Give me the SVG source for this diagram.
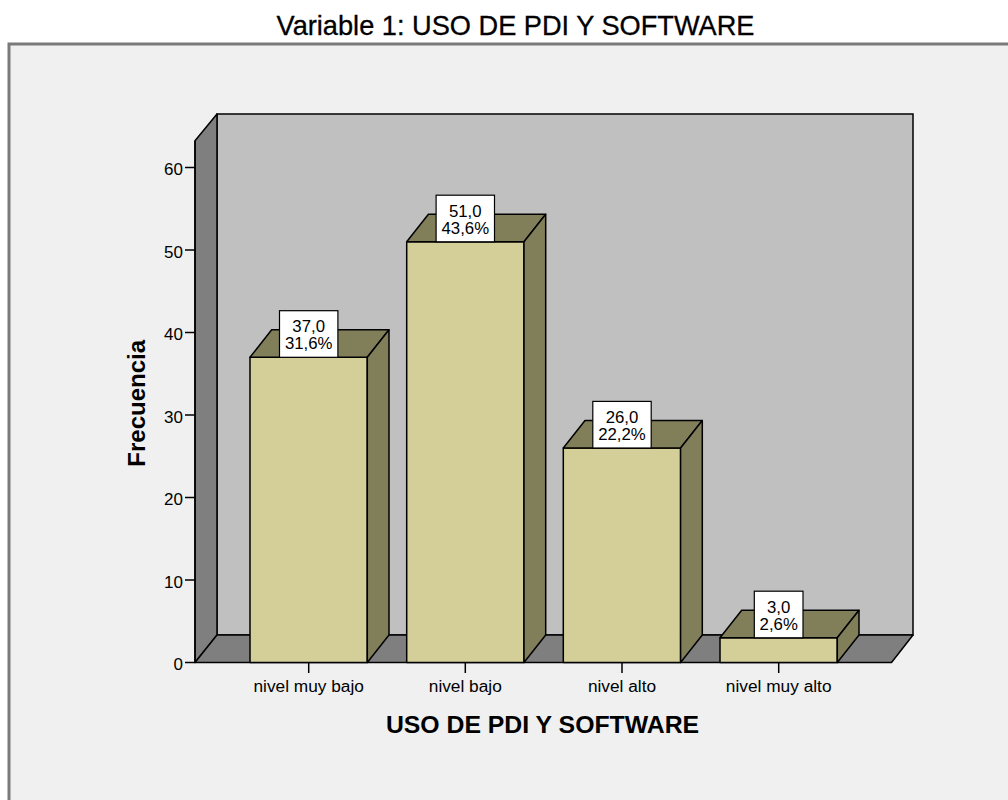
<svg xmlns="http://www.w3.org/2000/svg" width="1008" height="800" viewBox="0 0 1008 800">
<style>
text{font-family:"Liberation Sans",Arial,sans-serif;fill:#000}
.tick{font-size:17px;text-anchor:end}
.cat{font-size:17.3px;text-anchor:middle}
.val{font-size:16.8px;text-anchor:middle}
.ln{stroke:#000;stroke-width:1.5;fill:none}
.front{fill:#d4cf98;stroke:#000;stroke-width:1.5;stroke-linejoin:round}
.dark{fill:#817e5a;stroke:#000;stroke-width:1.5;stroke-linejoin:round}
.box{fill:#fff;stroke:#000;stroke-width:1.2}
</style>
<rect x="0" y="0" width="1008" height="800" fill="#fff"/>
<rect x="9" y="44" width="1100" height="800" fill="#f0f0f0" stroke="#7a7a7a" stroke-width="3"/>
<text x="515.5" y="35" font-size="27.2" text-anchor="middle" stroke="#000" stroke-width="0.3">Variable 1: USO DE PDI Y SOFTWARE</text>

<g id="walls">
<rect x="217" y="114" width="696" height="521" fill="#c0c0c0" stroke="#000" stroke-width="1.5"/>
<polygon points="195,662.5 195,140.7 217,114 217,635" fill="#7f7f7f" stroke="#000" stroke-width="1.5" stroke-linejoin="round"/>
<polygon points="195,662.5 217,635 913,635 891.5,662.5" fill="#7f7f7f" stroke="#000" stroke-width="1.5" stroke-linejoin="round"/>
</g>

<g id="y-axis">
<line class="ln" x1="195" y1="140.7" x2="195" y2="662.5"/>
<line class="ln" x1="185" y1="662.5" x2="195" y2="662.5"/>
<line class="ln" x1="185" y1="580" x2="195" y2="580"/>
<line class="ln" x1="185" y1="497.5" x2="195" y2="497.5"/>
<line class="ln" x1="185" y1="415" x2="195" y2="415"/>
<line class="ln" x1="185" y1="332.5" x2="195" y2="332.5"/>
<line class="ln" x1="185" y1="250" x2="195" y2="250"/>
<line class="ln" x1="185" y1="167.5" x2="195" y2="167.5"/>
<text class="tick" x="183" y="670">0</text>
<text class="tick" x="183" y="587.5">10</text>
<text class="tick" x="183" y="505">20</text>
<text class="tick" x="183" y="422.5">30</text>
<text class="tick" x="183" y="340">40</text>
<text class="tick" x="183" y="257.5">50</text>
<text class="tick" x="183" y="175">60</text>
<text transform="translate(145,403.3) rotate(-90)" font-size="24" font-weight="bold" text-anchor="middle">Frecuencia</text>
</g>

<g id="bar-nivel-muy-bajo">
<rect class="front" x="250" y="357.25" width="117.3" height="305.25"/>
<polygon class="dark" points="250,357.25 271.7,329.75 389,329.75 367.3,357.25"/>
<polygon class="dark" points="367.3,357.25 389,329.75 389,635 367.3,662.5"/>
<rect class="box" x="279.5" y="310.7" width="58.4" height="46.6"/>
<text class="val" x="308.7" y="332.3">37,0</text>
<text class="val" x="308.7" y="349.3">31,6%</text>
</g>

<g id="bar-nivel-bajo">
<rect class="front" x="406.7" y="241.75" width="117.3" height="420.75"/>
<polygon class="dark" points="406.7,241.75 428.4,214.25 545.7,214.25 524,241.75"/>
<polygon class="dark" points="524,241.75 545.7,214.25 545.7,635 524,662.5"/>
<rect class="box" x="436.1" y="195.2" width="58.4" height="46.6"/>
<text class="val" x="465.3" y="216.8">51,0</text>
<text class="val" x="465.3" y="233.8">43,6%</text>
</g>

<g id="bar-nivel-alto">
<rect class="front" x="563.3" y="448" width="117.3" height="214.5"/>
<polygon class="dark" points="563.3,448 585,420.5 702.3,420.5 680.6,448"/>
<polygon class="dark" points="680.6,448 702.3,420.5 702.3,635 680.6,662.5"/>
<rect class="box" x="592.8" y="401.4" width="58.4" height="46.6"/>
<text class="val" x="622" y="423">26,0</text>
<text class="val" x="622" y="440">22,2%</text>
</g>

<g id="bar-nivel-muy-alto">
<rect class="front" x="720" y="637.75" width="117.3" height="24.75"/>
<polygon class="dark" points="720,637.75 741.7,610.25 859,610.25 837.3,637.75"/>
<polygon class="dark" points="837.3,637.75 859,610.25 859,635 837.3,662.5"/>
<rect class="box" x="754.3" y="591.2" width="48.7" height="46.6"/>
<text class="val" x="778.7" y="612.8">3,0</text>
<text class="val" x="778.7" y="629.8">2,6%</text>
</g>

<g id="x-axis">
<line class="ln" x1="308.7" y1="662.5" x2="308.7" y2="673"/>
<line class="ln" x1="465.3" y1="662.5" x2="465.3" y2="673"/>
<line class="ln" x1="622" y1="662.5" x2="622" y2="673"/>
<line class="ln" x1="778.7" y1="662.5" x2="778.7" y2="673"/>
<text class="cat" x="308.7" y="691.7">nivel muy bajo</text>
<text class="cat" x="465.3" y="691.7">nivel bajo</text>
<text class="cat" x="622" y="691.7">nivel alto</text>
<text class="cat" x="778.7" y="691.7">nivel muy alto</text>
<text x="542.5" y="733.3" font-size="24.8" font-weight="bold" text-anchor="middle">USO DE PDI Y SOFTWARE</text>
</g>
</svg>
